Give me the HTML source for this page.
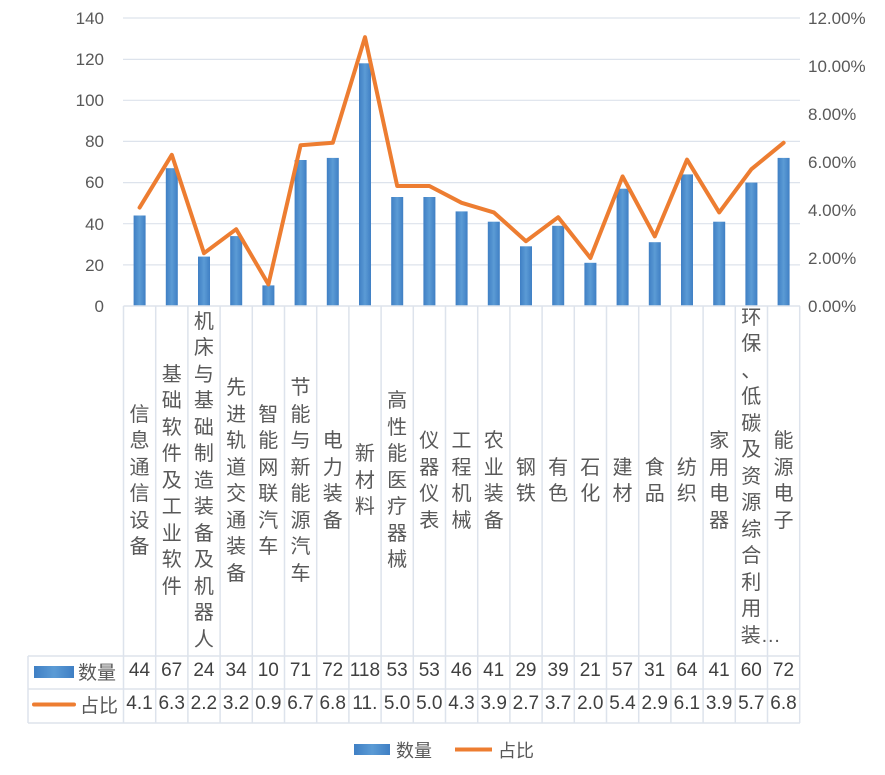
<!DOCTYPE html>
<html><head><meta charset="utf-8"><style>
body{margin:0;background:#fff;width:885px;height:775px;position:relative;overflow:hidden;font-family:"Liberation Sans","Noto Sans CJK SC",sans-serif;color:#595959}
.col{position:absolute;top:306px;height:350px;width:32px;display:flex;align-items:center;justify-content:center}
.col div{width:21px;font-size:20px;line-height:26.5px;word-break:break-all;text-align:center;white-space:normal}
.cell{position:absolute;width:32px;text-align:center;font-size:19px;color:#404040}
</style></head><body>
<svg width="885" height="775" style="position:absolute;left:0;top:0">
<defs><linearGradient id="g" x1="0" x2="1"><stop offset="0" stop-color="#3f7fc4"/><stop offset="0.5" stop-color="#5b9bd5"/><stop offset="1" stop-color="#3f7fc4"/></linearGradient></defs>
<g stroke="#dde3ec" stroke-width="1.2">
<line x1="123" x2="800" y1="18" y2="18"/><line x1="123" x2="800" y1="59.4" y2="59.4"/><line x1="123" x2="800" y1="100.3" y2="100.3"/><line x1="123" x2="800" y1="141.4" y2="141.4"/><line x1="123" x2="800" y1="182.6" y2="182.6"/><line x1="123" x2="800" y1="223.7" y2="223.7"/><line x1="123" x2="800" y1="264.9" y2="264.9"/>
</g>
<g font-size="17" fill="#595959" text-anchor="end">
<text x="104" y="24">140</text><text x="104" y="65">120</text><text x="104" y="106">100</text><text x="104" y="147">80</text><text x="104" y="188">60</text><text x="104" y="230">40</text><text x="104" y="271">20</text><text x="104" y="312">0</text>
</g>
<g font-size="17" fill="#595959">
<text x="808" y="24">12.00%</text><text x="808" y="72">10.00%</text><text x="808" y="120">8.00%</text><text x="808" y="168">6.00%</text><text x="808" y="216">4.00%</text><text x="808" y="264">2.00%</text><text x="808" y="312">0.00%</text>
</g>
<g fill="url(#g)">
<rect x="133.6" y="215.5" width="12" height="90.5"/>
<rect x="165.8" y="168.2" width="12" height="137.8"/>
<rect x="198" y="256.6" width="12" height="49.4"/>
<rect x="230.2" y="236.1" width="12" height="69.9"/>
<rect x="262.4" y="285.4" width="12" height="20.6"/>
<rect x="294.6" y="160" width="12" height="146"/>
<rect x="326.8" y="157.9" width="12" height="148.1"/>
<rect x="359" y="63.3" width="12" height="242.7"/>
<rect x="391.2" y="197" width="12" height="109"/>
<rect x="423.4" y="197" width="12" height="109"/>
<rect x="455.6" y="211.4" width="12" height="94.6"/>
<rect x="487.8" y="221.7" width="12" height="84.3"/>
<rect x="520" y="246.3" width="12" height="59.7"/>
<rect x="552.2" y="225.8" width="12" height="80.2"/>
<rect x="584.4" y="262.8" width="12" height="43.2"/>
<rect x="616.6" y="188.7" width="12" height="117.3"/>
<rect x="648.8" y="242.2" width="12" height="63.8"/>
<rect x="681" y="174.4" width="12" height="131.6"/>
<rect x="713.2" y="221.7" width="12" height="84.3"/>
<rect x="745.4" y="182.6" width="12" height="123.4"/>
<rect x="777.6" y="157.9" width="12" height="148.1"/>
</g>
<polyline fill="none" stroke="#ed7d31" stroke-width="4" stroke-linejoin="round" stroke-linecap="round" points="139.6,207.6 171.8,154.8 204,253.2 236.2,229.2 268.4,284.4 300.6,145.2 332.8,142.8 365,37.2 397.2,186 429.4,186 461.6,202.8 493.8,212.4 526,241.2 558.2,217.2 590.4,258 622.6,176.4 654.8,236.4 687,159.6 719.2,212.4 751.4,169.2 783.6,142.8"/>
<g stroke="#dde3ec" stroke-width="1.5" fill="none">
<line x1="123.5" x2="800" y1="306" y2="306"/>
<line x1="28" x2="800" y1="656" y2="656"/>
<line x1="28" x2="800" y1="689" y2="689"/>
<line x1="28" x2="800" y1="723" y2="723"/>
<line x1="28" x2="28" y1="656" y2="723"/>
<line x1="123.5" x2="123.5" y1="306" y2="723"/><line x1="155.7" x2="155.7" y1="306" y2="723"/><line x1="187.9" x2="187.9" y1="306" y2="723"/><line x1="220.1" x2="220.1" y1="306" y2="723"/><line x1="252.3" x2="252.3" y1="306" y2="723"/><line x1="284.5" x2="284.5" y1="306" y2="723"/><line x1="316.7" x2="316.7" y1="306" y2="723"/><line x1="348.9" x2="348.9" y1="306" y2="723"/><line x1="381.1" x2="381.1" y1="306" y2="723"/><line x1="413.3" x2="413.3" y1="306" y2="723"/><line x1="445.5" x2="445.5" y1="306" y2="723"/><line x1="477.7" x2="477.7" y1="306" y2="723"/><line x1="509.9" x2="509.9" y1="306" y2="723"/><line x1="542.1" x2="542.1" y1="306" y2="723"/><line x1="574.3" x2="574.3" y1="306" y2="723"/><line x1="606.5" x2="606.5" y1="306" y2="723"/><line x1="638.7" x2="638.7" y1="306" y2="723"/><line x1="670.9" x2="670.9" y1="306" y2="723"/><line x1="703.1" x2="703.1" y1="306" y2="723"/><line x1="735.3" x2="735.3" y1="306" y2="723"/><line x1="767.5" x2="767.5" y1="306" y2="723"/><line x1="799.7" x2="799.7" y1="306" y2="723"/>
</g>
<rect x="34" y="666" width="40" height="12" fill="url(#g)"/>
<line x1="34" x2="74" y1="704.5" y2="704.5" stroke="#ed7d31" stroke-width="4" stroke-linecap="round"/>
<text x="78" y="679" font-size="19" fill="#595959">数量</text>
<text x="80" y="712" font-size="19" fill="#595959">占比</text>
<rect x="354" y="744" width="36" height="11" fill="url(#g)"/>
<text x="396" y="757" font-size="18" fill="#595959">数量</text>
<line x1="455" x2="492" y1="749.5" y2="749.5" stroke="#ed7d31" stroke-width="4"/>
<text x="498" y="757" font-size="18" fill="#595959">占比</text>
</svg>
<div class="col" style="left:123.5px"><div>信息通信设备</div></div>
<div class="col" style="left:155.7px"><div>基础软件及工业软件</div></div>
<div class="col" style="left:187.9px"><div>机床与基础制造装备及机器人</div></div>
<div class="col" style="left:220.1px"><div>先进轨道交通装备</div></div>
<div class="col" style="left:252.3px"><div>智能网联汽车</div></div>
<div class="col" style="left:284.5px"><div>节能与新能源汽车</div></div>
<div class="col" style="left:316.7px"><div>电力装备</div></div>
<div class="col" style="left:348.9px"><div>新材料</div></div>
<div class="col" style="left:381.1px"><div>高性能医疗器械</div></div>
<div class="col" style="left:413.3px"><div>仪器仪表</div></div>
<div class="col" style="left:445.5px"><div>工程机械</div></div>
<div class="col" style="left:477.7px"><div>农业装备</div></div>
<div class="col" style="left:509.9px"><div>钢铁</div></div>
<div class="col" style="left:542.1px"><div>有色</div></div>
<div class="col" style="left:574.3px"><div>石化</div></div>
<div class="col" style="left:606.5px"><div>建材</div></div>
<div class="col" style="left:638.7px"><div>食品</div></div>
<div class="col" style="left:670.9px"><div>纺织</div></div>
<div class="col" style="left:703.1px"><div>家用电器</div></div>
<div class="col" style="left:735.3px;top:302px"><div style="white-space:nowrap">环<br>保<br>、<br>低<br>碳<br>及<br>资<br>源<br>综<br>合<br>利<br>用<br>装…</div></div>
<div class="col" style="left:767.5px"><div>能源电子</div></div>
<div style="position:absolute;left:123.5px;top:660px;font-size:19px;color:#404040">
<span class="cell" style="left:0px">44</span><span class="cell" style="left:32.2px">67</span><span class="cell" style="left:64.4px">24</span><span class="cell" style="left:96.6px">34</span><span class="cell" style="left:128.8px">10</span><span class="cell" style="left:161px">71</span><span class="cell" style="left:193.2px">72</span><span class="cell" style="left:225.4px">118</span><span class="cell" style="left:257.6px">53</span><span class="cell" style="left:289.8px">53</span><span class="cell" style="left:322px">46</span><span class="cell" style="left:354.2px">41</span><span class="cell" style="left:386.4px">29</span><span class="cell" style="left:418.6px">39</span><span class="cell" style="left:450.8px">21</span><span class="cell" style="left:483px">57</span><span class="cell" style="left:515.2px">31</span><span class="cell" style="left:547.4px">64</span><span class="cell" style="left:579.6px">41</span><span class="cell" style="left:611.8px">60</span><span class="cell" style="left:644px">72</span>
</div>
<div style="position:absolute;left:123.5px;top:693px;font-size:19px;color:#404040">
<span class="cell" style="left:0px">4.1</span><span class="cell" style="left:32.2px">6.3</span><span class="cell" style="left:64.4px">2.2</span><span class="cell" style="left:96.6px">3.2</span><span class="cell" style="left:128.8px">0.9</span><span class="cell" style="left:161px">6.7</span><span class="cell" style="left:193.2px">6.8</span><span class="cell" style="left:225.4px">11.</span><span class="cell" style="left:257.6px">5.0</span><span class="cell" style="left:289.8px">5.0</span><span class="cell" style="left:322px">4.3</span><span class="cell" style="left:354.2px">3.9</span><span class="cell" style="left:386.4px">2.7</span><span class="cell" style="left:418.6px">3.7</span><span class="cell" style="left:450.8px">2.0</span><span class="cell" style="left:483px">5.4</span><span class="cell" style="left:515.2px">2.9</span><span class="cell" style="left:547.4px">6.1</span><span class="cell" style="left:579.6px">3.9</span><span class="cell" style="left:611.8px">5.7</span><span class="cell" style="left:644px">6.8</span>
</div>
</body></html>
